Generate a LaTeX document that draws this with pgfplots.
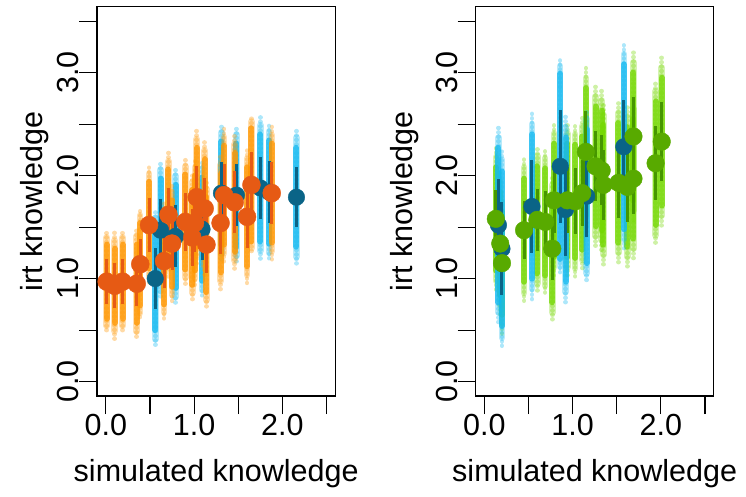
\documentclass[border=0pt]{standalone}
\usepackage{fontspec}
\setmainfont{Liberation Sans}
\usepackage{pgfplots}
\usepackage{pgfplotstable}
\pgfplotsset{compat=1.18}

\definecolor{odot}{RGB}{230,90,20}
\definecolor{oscat}{RGB}{255,150,0}
\definecolor{bdot}{RGB}{10,100,135}
\definecolor{bscat}{RGB}{20,185,240}
\definecolor{gdot}{RGB}{88,170,0}
\definecolor{gscat}{RGB}{115,215,0}
\definecolor{gbar}{RGB}{70,150,0}

% x y b(bar half-width) d(dense half-width) f(faint half-width)
\pgfplotstableread{
x y b d f
0.01 0.97 0.22 0.36 0.50
0.10 0.93 0.22 0.36 0.52
0.19 0.97 0.22 0.36 0.50
0.35 0.95 0.22 0.38 0.55
0.39 1.14 0.24 0.40 0.55
0.49 1.52 0.26 0.42 0.58
0.66 1.17 0.26 0.42 0.58
0.71 1.62 0.26 0.44 0.60
0.75 1.34 0.26 0.42 0.58
0.90 1.55 0.28 0.46 0.62
0.98 1.40 0.28 0.46 0.62
1.01 1.54 0.28 0.46 0.62
1.03 1.79 0.30 0.48 0.65
1.12 1.68 0.30 0.48 0.65
1.14 1.33 0.28 0.46 0.62
1.30 1.54 0.30 0.48 0.65
1.34 1.81 0.30 0.48 0.65
1.46 1.74 0.30 0.48 0.65
1.60 1.60 0.30 0.48 0.65
1.65 1.91 0.32 0.55 0.68
1.88 1.83 0.30 0.48 0.65
}\lefto

\pgfplotstableread{
x y b d f
0.56 1.00 0.30 0.50 0.68
0.62 1.47 0.30 0.50 0.68
0.79 1.41 0.30 0.50 0.68
1.09 1.48 0.30 0.50 0.68
1.31 1.83 0.30 0.50 0.68
1.48 1.81 0.30 0.50 0.68
1.75 1.88 0.30 0.52 0.70
1.85 1.84 0.30 0.50 0.68
2.16 1.79 0.29 0.48 0.68
}\leftb

\pgfplotstableread{
x y b d f
0.13 1.58 0.28 0.50 0.70
0.18 1.34 0.28 0.50 0.70
0.20 1.15 0.28 0.50 0.70
0.45 1.47 0.28 0.50 0.72
0.60 1.57 0.30 0.52 0.72
0.69 1.55 0.30 0.52 0.72
0.77 1.29 0.30 0.52 0.72
0.79 1.76 0.32 0.55 0.75
0.94 1.76 0.32 0.55 0.75
1.03 1.75 0.32 0.55 0.75
1.11 1.83 0.32 0.55 0.75
1.15 2.23 0.40 0.62 0.82
1.26 2.09 0.34 0.58 0.78
1.33 2.05 0.34 0.58 0.78
1.35 1.91 0.34 0.58 0.78
1.52 1.93 0.34 0.58 0.78
1.62 1.89 0.34 0.58 0.78
1.69 1.97 0.34 0.58 0.78
1.69 2.38 0.38 0.62 0.82
1.94 2.12 0.36 0.60 0.80
2.01 2.33 0.38 0.62 0.82
}\rightg

\pgfplotstableread{
x y b d f
0.16 1.52 0.45 0.75 0.95
0.20 1.29 0.45 0.75 0.98
0.54 1.70 0.45 0.70 0.90
0.86 2.09 0.55 0.90 1.05
0.92 1.67 0.45 0.70 0.90
1.16 1.80 0.40 0.65 0.85
1.58 2.28 0.45 0.80 1.00
}\rightb

\pgfplotsset{
 rpanel/.style={anchor=south west, width=238.3pt, height=389.3pt, scale only axis,
   xmin=-0.1, xmax=2.6, ymin=-0.14, ymax=3.64,
   xtick={0,0.5,1,1.5,2,2.5}, xticklabels={0.0,,1.0,,2.0,},
   ytick={0,0.5,1,1.5,2,2.5,3,3.5}, yticklabels={0.0,,1.0,,2.0,,3.0,},
   tick pos=left, tick align=outside, major tick length=18pt,
   every tick/.style={black, line width=1.1pt},
   axis line style={line width=1.1pt},
   /pgf/number format/assume math mode=true,
   ticklabel style={font=\fontsize{30.5}{36}\selectfont, inner sep=0pt},
   xticklabel style={anchor=north},
   yticklabel style={rotate=90, anchor=south},
   label style={font=\fontsize{30.5}{36}\selectfont, inner sep=0pt},
   xlabel={simulated knowledge}, ylabel={irt knowledge},
   xlabel style={at={([yshift=-85.7pt]axis description cs:0.5,0)}, anchor=base},
 },
 fl/.style={only marks, mark=none, forget plot,
   error bars/y dir=both, error bars/y explicit, error bars/error mark=none,
   error bars/error bar style={line width=4.5pt, line cap=round, dash pattern=on 0.01pt off 4.4pt, color=#1, opacity=0.35}},
 ml/.style={only marks, mark=none, forget plot,
   error bars/y dir=both, error bars/y explicit, error bars/error mark=none,
   error bars/error bar style={line width=6.5pt, line cap=round, color=#1, opacity=0.3}},
 dl/.style={only marks, mark=none, forget plot,
   error bars/y dir=both, error bars/y explicit, error bars/error mark=none,
   error bars/error bar style={line width=6pt, line cap=round, color=#1, opacity=0.75}},
 bl/.style={only marks, mark=none, forget plot,
   error bars/y dir=both, error bars/y explicit, error bars/error mark=none,
   error bars/error bar style={line width=3pt, line cap=butt, color=#1, opacity=1}},
 dots/.style={only marks, mark=*, mark size=#1, forget plot},
}

\begin{document}
\begin{tikzpicture}
\useasboundingbox (0,0) rectangle (746pt,497pt);
\begin{axis}[rpanel, at={(97pt,101pt)},
  ylabel style={at={([xshift=-55pt]axis description cs:0,0.5)}, anchor=base}]
\addplot[fl=bscat] table[x=x,y=y,y error=f]{\leftb};
\addplot[ml=bscat] table[x=x,y=y,y error expr={(\thisrow{d}+\thisrow{f})/2}]{\leftb};
\addplot[dl=bscat] table[x=x,y=y,y error=d]{\leftb};
\addplot[fl=oscat] table[x=x,y=y,y error=f]{\lefto};
\addplot[ml=oscat] table[x=x,y=y,y error expr={(\thisrow{d}+\thisrow{f})/2}]{\lefto};
\addplot[dl=oscat] table[x=x,y=y,y error=d]{\lefto};
\addplot[bl=bdot] table[x=x,y=y,y error=b]{\leftb};
\addplot[dots=8.3pt, color=bdot] table[x=x,y=y]{\leftb};
\addplot[bl=odot] table[x=x,y=y,y error=b]{\lefto};
\addplot[dots=9pt, color=odot] table[x=x,y=y]{\lefto};
\end{axis}
\begin{axis}[rpanel, at={(475.5pt,101pt)},
  ylabel style={at={([xshift=-63.5pt]axis description cs:0,0.5)}, anchor=base}]
\addplot[fl=gscat] table[x=x,y=y,y error=f]{\rightg};
\addplot[ml=gscat] table[x=x,y=y,y error expr={(\thisrow{d}+\thisrow{f})/2}]{\rightg};
\addplot[dl=gscat] table[x=x,y=y,y error=d]{\rightg};
\addplot[fl=bscat] table[x=x,y=y,y error=f]{\rightb};
\addplot[ml=bscat] table[x=x,y=y,y error expr={(\thisrow{d}+\thisrow{f})/2}]{\rightb};
\addplot[dl=bscat] table[x=x,y=y,y error=d]{\rightb};
\addplot[bl=gbar] table[x=x,y=y,y error=b]{\rightg};
\addplot[bl=bdot] table[x=x,y=y,y error=b]{\rightb};
\addplot[dots=8.3pt, color=bdot] table[x=x,y=y]{\rightb};
\addplot[dots=8.8pt, color=gdot] table[x=x,y=y]{\rightg};
\end{axis}
\end{tikzpicture}
\end{document}
